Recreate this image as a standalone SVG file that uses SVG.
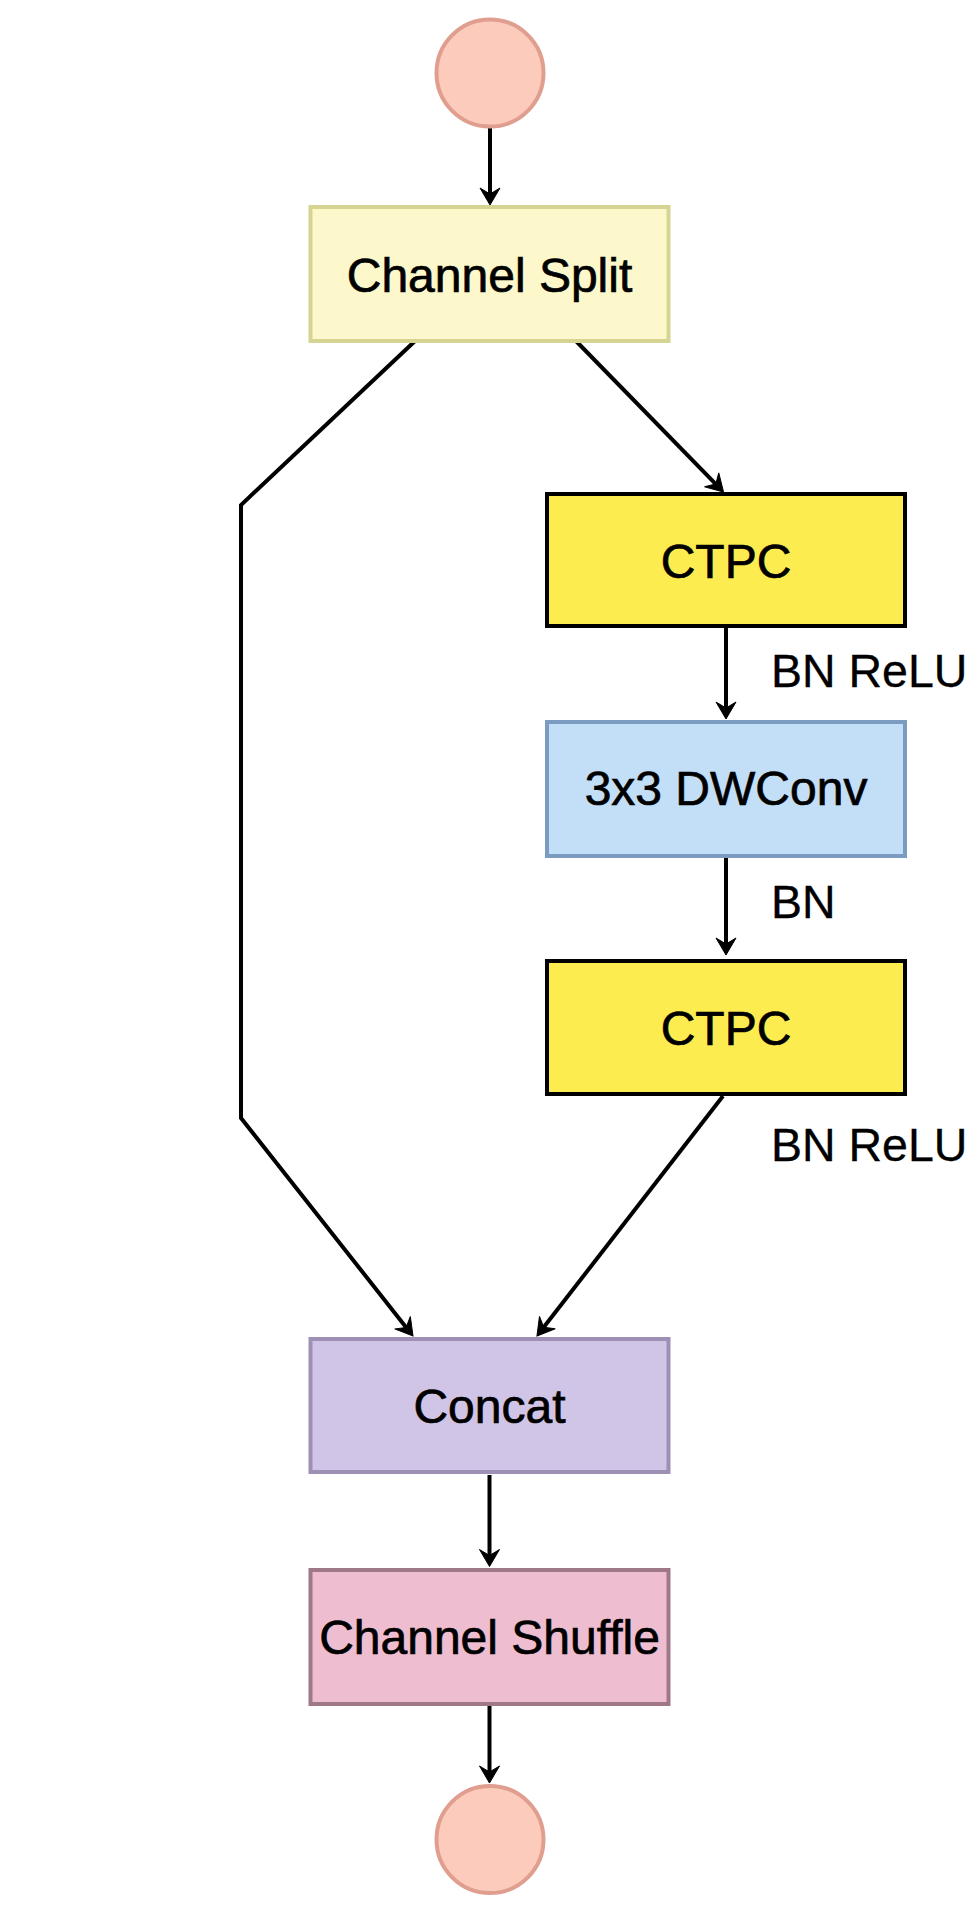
<svg xmlns="http://www.w3.org/2000/svg" width="980" height="1908" viewBox="0 0 980 1908">
<style>
  .node text, .lbl { font-family: "Liberation Sans", Arial, Helvetica, sans-serif; fill: #000; }
  .node text { font-size: 48px; text-anchor: middle; stroke: #000; stroke-width: 0.7; }
  .lbl { font-size: 46.5px; stroke: #000; stroke-width: 0.3; }
  .edge { fill: none; stroke: #000; stroke-width: 4; stroke-linejoin: miter; }
  .box { stroke-width: 4; }
</style>
<defs>
  <marker id="arr" markerUnits="userSpaceOnUse" markerWidth="40" markerHeight="40" viewBox="-20 -20 40 40" refX="0" refY="0" orient="auto" overflow="visible">
    <path d="M11,0 L-6,-10 L0,0 L-6,10 Z" fill="#000" stroke="#000" stroke-width="1" stroke-linejoin="miter"/>
  </marker>
</defs>
<rect width="980" height="1908" fill="#fff"/>

<g id="connectors">
  <path class="edge" d="M490,127 L490,194" marker-end="url(#arr)"/>
  <path class="edge" d="M576,341 L715.8,484.1" marker-end="url(#arr)"/>
  <path class="edge" d="M415,341 L241,505 L241,1118 L406.2,1327.4" marker-end="url(#arr)"/>
  <path class="edge" d="M726,628 L726,708" marker-end="url(#arr)"/>
  <path class="edge" d="M726,858 L726,944" marker-end="url(#arr)"/>
  <path class="edge" d="M723,1096 L543.7,1327.3" marker-end="url(#arr)"/>
  <path class="edge" d="M489.5,1475 L489.5,1555.5" marker-end="url(#arr)"/>
  <path class="edge" d="M489.5,1706 L489.5,1772" marker-end="url(#arr)"/>
</g>

<g id="input" class="node">
  <circle cx="490" cy="73" r="53.5" fill="#FCCBBB" stroke="#E09E8F" stroke-width="4"/>
</g>
<g id="channel-split" class="node">
  <rect class="box" x="310.5" y="207" width="358" height="134" fill="#FCF8CB" stroke="#D6D493"/>
  <text x="489.5" y="292">Channel Split</text>
</g>
<g id="ctpc1" class="node">
  <rect class="box" x="547" y="494" width="358" height="132" fill="#FCEC50" stroke="#000"/>
  <text x="726" y="578">CTPC</text>
</g>
<g id="dwconv" class="node">
  <rect class="box" x="547" y="722" width="358" height="134" fill="#C3DEF7" stroke="#7C9BC0"/>
  <text x="726" y="805">3x3 DWConv</text>
</g>
<g id="ctpc2" class="node">
  <rect class="box" x="547" y="961" width="358" height="133" fill="#FCEC50" stroke="#000"/>
  <text x="726" y="1045">CTPC</text>
</g>
<g id="concat" class="node">
  <rect class="box" x="310.5" y="1339" width="358" height="133" fill="#D0C5E6" stroke="#9D90B4"/>
  <text x="489.5" y="1423">Concat</text>
</g>
<g id="channel-shuffle" class="node">
  <rect class="box" x="310.5" y="1570" width="358" height="134" fill="#EFBDD0" stroke="#9E7886"/>
  <text x="489.5" y="1654">Channel Shuffle</text>
</g>
<g id="output" class="node">
  <circle cx="490" cy="1839.5" r="53.5" fill="#FCCBBB" stroke="#E09E8F" stroke-width="4"/>
</g>

<g id="labels">
  <text class="lbl" x="771" y="687">BN ReLU</text>
  <text class="lbl" x="771" y="918">BN</text>
  <text class="lbl" x="771" y="1161">BN ReLU</text>
</g>
</svg>
